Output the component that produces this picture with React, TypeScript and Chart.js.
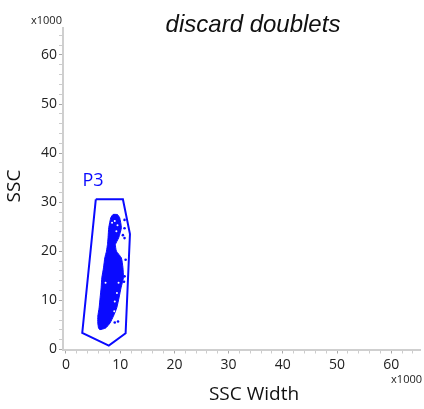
import React, { useEffect, useRef } from "react";
import { Chart, registerables } from "chart.js";

Chart.register(...registerables);

const titleText = "discard doublets";
const xAxisTitle = "SSC Width";
const yAxisTitle = "SSC";
const multiplierLabel = "x1000";
const gateName = "P3";

// Gate P3 polygon (x1000 units)
const gateX = [5.5, 10.5, 11.8, 11.0, 7.9, 3.0, 5.5];
const gateY = [30.6, 30.6, 23.5, 3.3, 0.8, 3.4, 30.6];

// Dense population outline (x1000 units)
const blobX = [9.49, 9.91, 10.22, 9.72, 9.12, 9.3, 10.22, 10.51, 10.59, 10.15, 9.78, 9.36, 8.75, 8.13, 7.34, 6.24, 6.0, 5.87, 5.87, 6.11, 6.29, 6.48, 6.61, 6.92, 7.16, 7.47, 7.65, 7.76, 7.89, 8.26, 8.68, 9.49];
const blobY = [27.51, 26.84, 24.8, 22.76, 21.39, 20.04, 18.67, 16.63, 14.59, 12.55, 10.51, 8.47, 6.78, 5.41, 4.39, 4.04, 4.39, 5.41, 6.78, 8.47, 10.51, 12.55, 14.59, 16.63, 18.67, 20.04, 21.39, 22.76, 24.8, 26.84, 27.51, 27.51];

// Sparse events near the population
const dotX = [10.8, 10.8, 10.5, 10.8, 11.0, 10.8, 10.7, 9.6, 9.0];
const dotY = [26.4, 24.7, 23.3, 22.7, 18.3, 14.9, 13.8, 5.7, 5.5];

// Gaps inside the population
const holeX = [9.0, 9.5, 9.3, 8.5, 7.3, 9.4, 9.0, 8.9, 9.7];
const holeY = [26.2, 25.3, 24.1, 25.8, 13.6, 11.5, 9.8, 7.8, 13.6];

const xMin = -0.55;
const xMax = 65.3;
const yMin = 0;
const yMax = 65.5;
const tickValues = [0, 2, 4, 6, 8, 10, 12, 14, 16, 18, 20, 22, 24, 26, 28, 30, 32, 34, 36, 38, 40, 42, 44, 46, 48, 50, 52, 54, 56, 58, 60, 62, 64];
const labelStep = 10;

const BLUE = "#0a0aff";
const toPts = (xs: number[], ys: number[]) => xs.map((x, i) => ({ x, y: ys[i] }));

export default function App() {
  const ref = useRef<HTMLCanvasElement | null>(null);
  useEffect(() => {
    if (!ref.current) return;
    const textPlugin = {
      id: "texts",
      afterDraw(chart: any) {
        const ctx = chart.ctx;
        const xs = chart.scales.x;
        const ys = chart.scales.y;
        ctx.save();
        ctx.fillStyle = "#111";
        ctx.textAlign = "center";
        ctx.textBaseline = "alphabetic";
        ctx.font = 'italic 24px "Liberation Sans", Arial, sans-serif';
        ctx.fillText(titleText, 253, 32);

        ctx.font = '19px "Open Sans", sans-serif';
        ctx.textBaseline = "middle";
        ctx.fillText(xAxisTitle, 254, 395);
        ctx.save();
        ctx.translate(15, 186);
        ctx.rotate(-Math.PI / 2);
        ctx.fillText(yAxisTitle, 0, 0);
        ctx.restore();

        ctx.font = '11px "Open Sans", sans-serif';
        ctx.fillStyle = "#222";
        ctx.textAlign = "left";
        ctx.textBaseline = "alphabetic";
        ctx.fillText(multiplierLabel, 31, 24);
        ctx.textAlign = "right";
        ctx.textBaseline = "middle";
        ctx.fillText(multiplierLabel, 422, 380);

        ctx.fillStyle = BLUE;
        ctx.font = '18px "Open Sans", sans-serif';
        ctx.textAlign = "center";
        ctx.fillText(gateName, xs.getPixelForValue(5.0), ys.getPixelForValue(34.3));
        ctx.restore();
      },
    };

    const axisCommon = (fit: (s: any) => void) => ({
      type: "linear" as const,
      afterBuildTicks: (s: any) => {
        s.ticks = tickValues.map((v) => ({ value: v }));
      },
      afterFit: fit,
      ticks: {
        autoSkip: false,
        maxRotation: 0,
        font: { family: '"Open Sans", sans-serif', size: 14 },
        color: "#222",
        callback: (v: any) => (Number(v) % labelStep === 0 ? String(v) : ""),
      },
      grid: {
        drawOnChartArea: false,
        drawTicks: true,
        tickLength: 4,
        color: (c: any) => (c.tick && c.tick.value % labelStep === 0 ? "#a8a8a8" : "#cccccc"),
        lineWidth: 1,
      },
      border: { display: true, color: "#cfcfcf", width: 2 },
    });

    const chart = new Chart(ref.current, {
      type: "scatter",
      data: {
        datasets: [
          {
            type: "scatter",
            data: toPts(holeX, holeY),
            pointRadius: 1,
            pointBackgroundColor: "#ffffff",
            pointBorderWidth: 0,
            order: 0,
          },
          {
            type: "scatter",
            data: toPts(dotX, dotY),
            pointRadius: 1.3,
            pointBackgroundColor: BLUE,
            pointBorderWidth: 0,
            order: 1,
          },
          {
            type: "line",
            data: toPts(blobX, blobY),
            borderColor: BLUE,
            backgroundColor: BLUE,
            borderWidth: 1,
            pointRadius: 0,
            tension: 0.15,
            fill: "shape",
            order: 2,
          } as any,
          {
            type: "line",
            data: toPts(gateX, gateY),
            borderColor: BLUE,
            borderWidth: 2,
            pointRadius: 0,
            tension: 0,
            fill: false,
            order: 3,
          },
        ],
      },
      options: {
        animation: false,
        responsive: false,
        layout: { padding: { left: 0, right: 2, top: 28, bottom: 0 } },
        plugins: { legend: { display: false }, tooltip: { enabled: false }, title: { display: false } },
        scales: {
          x: { ...axisCommon((s: any) => { s.height = 59.5; }), min: xMin, max: xMax, ticks: { ...axisCommon(() => {}).ticks, padding: 3 } },
          y: { ...axisCommon((s: any) => { s.width = 63; }), min: yMin, max: yMax, ticks: { ...axisCommon(() => {}).ticks, padding: 2 } },
        } as any,
      },
      plugins: [textPlugin],
    });
    return () => chart.destroy();
  }, []);

  return (
    <div style={{ position: "fixed", left: 0, top: 0, width: 424, height: 409, background: "#fff" }}>
      <canvas ref={ref} width={424} height={409} style={{ display: "block" }} />
    </div>
  );
}
